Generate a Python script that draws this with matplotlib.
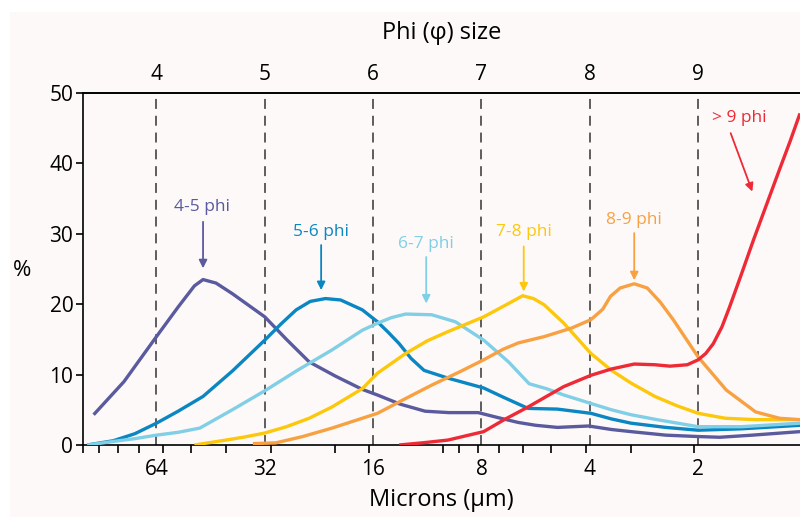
import numpy as np
import matplotlib
matplotlib.use("Agg")
import matplotlib.pyplot as plt
from matplotlib.patches import Rectangle

plt.rcParams['font.family'] = ['Open Sans', 'DejaVu Sans']

# ---- data (x in phi units, y in %) ----
phi_45 = [3.42, 3.7, 4.0, 4.2, 4.35, 4.43, 4.55, 4.7, 5.0, 5.2, 5.41, 5.65, 5.9, 6.04, 6.25, 6.48, 6.7, 6.97, 7.15, 7.34, 7.5, 7.7, 7.99, 8.2, 8.38, 8.7, 9.0, 9.2, 9.5, 9.94]
pct_45 = [4.3, 9.0, 15.4, 19.6, 22.6, 23.5, 23.0, 21.5, 18.2, 15.0, 11.8, 9.8, 7.9, 7.1, 5.8, 4.8, 4.6, 4.6, 3.9, 3.2, 2.8, 2.5, 2.7, 2.2, 1.9, 1.4, 1.2, 1.1, 1.4, 1.9]

phi_56 = [3.36, 3.6, 3.8, 4.0, 4.2, 4.43, 4.7, 5.0, 5.15, 5.29, 5.42, 5.56, 5.7, 5.9, 6.04, 6.14, 6.24, 6.35, 6.47, 6.69, 7.02, 7.2, 7.43, 7.7, 8.01, 8.2, 8.38, 8.7, 9.0, 9.4, 9.94]
pct_56 = [0.0, 0.6, 1.6, 3.1, 4.8, 6.9, 10.5, 14.9, 17.2, 19.2, 20.4, 20.8, 20.6, 19.2, 17.5, 16.0, 14.4, 12.3, 10.6, 9.5, 8.1, 6.8, 5.2, 5.1, 4.5, 3.7, 3.1, 2.5, 2.1, 2.3, 2.8]

phi_67 = [3.36, 3.6, 3.8, 4.0, 4.2, 4.4, 4.7, 5.0, 5.3, 5.62, 5.9, 6.04, 6.17, 6.3, 6.54, 6.76, 7.02, 7.25, 7.44, 7.6, 7.76, 8.01, 8.2, 8.38, 8.62, 9.0, 9.4, 9.94]
pct_67 = [0.0, 0.5, 0.9, 1.4, 1.8, 2.4, 5.0, 7.7, 10.6, 13.5, 16.3, 17.3, 18.1, 18.6, 18.5, 17.5, 14.9, 11.8, 8.7, 8.0, 7.1, 5.9, 5.0, 4.3, 3.6, 2.6, 2.6, 3.1]

phi_78 = [4.35, 4.6, 4.8, 5.0, 5.2, 5.41, 5.62, 5.9, 6.04, 6.3, 6.5, 6.69, 7.02, 7.25, 7.38, 7.48, 7.58, 7.76, 8.01, 8.2, 8.38, 8.6, 8.8, 9.0, 9.25, 9.53, 9.94]
pct_78 = [0.0, 0.6, 1.1, 1.7, 2.6, 3.8, 5.4, 8.0, 10.2, 13.0, 14.8, 16.1, 18.2, 20.1, 21.2, 20.8, 19.9, 17.3, 13.0, 10.6, 8.8, 6.9, 5.6, 4.5, 3.8, 3.6, 3.6]

phi_89 = [4.89, 5.1, 5.35, 5.62, 5.9, 6.04, 6.3, 6.54, 6.8, 7.02, 7.2, 7.34, 7.58, 7.83, 8.01, 8.12, 8.19, 8.28, 8.41, 8.53, 8.65, 8.77, 9.0, 9.26, 9.53, 9.75, 9.94]
pct_89 = [0.2, 0.3, 1.2, 2.4, 3.8, 4.5, 6.6, 8.5, 10.4, 12.1, 13.6, 14.5, 15.4, 16.6, 17.8, 19.3, 21.1, 22.3, 22.9, 22.3, 20.3, 17.8, 12.5, 7.8, 4.7, 3.8, 3.6]

phi_9p = [6.24, 6.45, 6.69, 7.02, 7.21, 7.43, 7.6, 7.76, 8.01, 8.2, 8.41, 8.6, 8.74, 8.9, 9.0, 9.07, 9.14, 9.22, 9.29, 9.4, 9.51, 9.63, 9.75, 9.85, 9.94]
pct_9p = [0.0, 0.3, 0.7, 1.9, 3.6, 5.4, 6.9, 8.3, 9.9, 10.8, 11.5, 11.4, 11.2, 11.4, 12.1, 13.0, 14.4, 16.8, 19.6, 24.3, 29.1, 34.1, 39.1, 43.2, 47.1]

series = [
    (phi_45, pct_45, '#5a5a9e', '4-5 phi'),
    (phi_56, pct_56, '#0a87c3', '5-6 phi'),
    (phi_67, pct_67, '#80cfe6', '6-7 phi'),
    (phi_78, pct_78, '#fdc70c', '7-8 phi'),
    (phi_89, pct_89, '#f7a143', '8-9 phi'),
    (phi_9p, pct_9p, '#ee2a36', '> 9 phi'),
]

# annotation: (text x, text y, arrow tail x, tail y, head x, head y)
ann_pos = [
    (4.42, 33.8, 4.43, 31.7, 4.43, 25.1),
    (5.52, 30.3, 5.52, 28.4, 5.52, 22.0),
    (6.49, 28.5, 6.49, 26.7, 6.49, 20.1),
    (7.39, 30.3, 7.39, 28.2, 7.39, 21.8),
    (8.41, 32.0, 8.41, 30.1, 8.41, 23.4),
    (9.38, 46.4, 9.30, 44.3, 9.50, 36.0),
]

phi_ticks = [4, 5, 6, 7, 8, 9]
micron_labels = ['64', '32', '16', '8', '4', '2']
micron_minor = [100, 90, 80, 70, 60, 50, 40, 30, 20, 16, 10, 9, 8, 7, 6, 5, 4, 3, 2]
y_ticks = [0, 10, 20, 30, 40, 50]

# ---- figure ----
fig = plt.figure(figsize=(8.0, 5.17), dpi=100)
fig.patch.set_facecolor('white')
fig.add_artist(Rectangle((10 / 800, 0), 1, 1 - 12 / 517, transform=fig.transFigure,
                         facecolor='#fdf9f8', edgecolor='none', zorder=-10))

ax = fig.add_axes([83 / 800, 1 - 445 / 517, 1 - 83 / 800, (445 - 93) / 517])
ax.set_facecolor('none')
ax.set_xlim(3.358, 9.94)
ax.set_ylim(0, 50)

for p in phi_ticks:
    ax.axvline(p, color='#333333', lw=1.1, ls=(0, (6.5, 4.5)), zorder=1)

for xs, ys, c, lab in series:
    ax.plot(xs, ys, color=c, lw=2.4, solid_capstyle='butt', solid_joinstyle='round',
            zorder=3, clip_on=True)

for (xs, ys, c, lab), (tx, ty, ax0, ay0, ax1, ay1) in zip(series, ann_pos):
    ax.text(tx, ty, lab, color=c, fontsize=12.5, ha='center', va='center')
    ax.annotate('', xy=(ax1, ay1), xytext=(ax0, ay0),
                arrowprops=dict(arrowstyle='-|>', color=c, lw=1.3,
                                mutation_scale=12, shrinkA=0, shrinkB=0))

# spines
ax.spines['right'].set_visible(False)
for s in ['left', 'top', 'bottom']:
    ax.spines[s].set_linewidth(1.2)
    ax.spines[s].set_color('black')

# y axis
ax.set_yticks(y_ticks)
ax.tick_params(axis='y', direction='out', length=5, width=1.2, labelsize=15, pad=2)
fig.text(22 / 800, 1 - 270 / 517, '%', fontsize=16, ha='center', va='center')

# bottom axis: labels at phi integers, ticks at micron positions
ax.set_xticks(phi_ticks)
ax.set_xticklabels(micron_labels)
ax.tick_params(axis='x', which='major', length=0, labelsize=15, pad=10)
minor_pos = [-np.log2(m / 1000.0) for m in micron_minor]
ax.set_xticks(minor_pos, minor=True)
ax.tick_params(axis='x', which='minor', direction='out', length=6, width=1.2)
ax.set_xlabel('Microns (µm)', fontsize=17, labelpad=6)

# top axis (phi)
sec = ax.secondary_xaxis('top')
sec.set_xticks(phi_ticks)
sec.set_xticklabels([str(p) for p in phi_ticks])
sec.tick_params(axis='x', length=0, labelsize=15, pad=6)
sec.spines['top'].set_linewidth(1.2)
sec.set_xlabel('Phi (φ) size', fontsize=17, labelpad=18)

fig.savefig('out.png', dpi=100)
